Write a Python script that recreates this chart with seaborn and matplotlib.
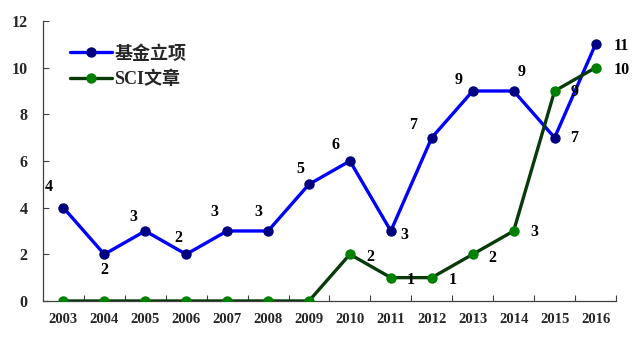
import matplotlib
matplotlib.use("Agg")
import matplotlib.pyplot as plt
import seaborn as sns
import pandas as pd
from matplotlib.ticker import FixedLocator
from matplotlib.lines import Line2D

years = [2003, 2004, 2005, 2006, 2007, 2008, 2009, 2010, 2011, 2012, 2013, 2014, 2015, 2016]
fund = [4, 2, 3, 2, 3, 3, 5, 6, 3, 7, 9, 9, 7, 11]
sci = [0, 0, 0, 0, 0, 0, 0, 2, 1, 1, 2, 3, 9, 10]
series_names = ["基金立项", "SCI文章"]

# label offsets in pixels (dx, dy up)
fund_off = [(-15, 21), (0, -16), (-12, 14), (-8, 16), (-13, 19), (-10, 19), (-9, 15),
            (-14, 16), (13, -4), (-19, 13), (-14, 11), (8, 19), (20, 0), (26, -2)]
sci_off = [(20, -3), (20, -2), (21, -2), (20, -4), (21, -1), (20, -1), (26, -2)]

sns.set_theme(style="white")
plt.rcParams['font.family'] = ['Liberation Serif', 'Noto Sans CJK SC', 'DejaVu Sans']

df = pd.DataFrame({"year": years * 2,
                   "value": fund + sci,
                   "series": [series_names[0]] * len(years) + [series_names[1]] * len(years)})

fig = plt.figure(figsize=(6.4, 3.42), dpi=100)
ax = fig.add_axes([0.067, 0.12, 0.8955, 0.8186])

sns.lineplot(data=df, x="year", y="value", hue="series",
             palette={series_names[0]: "#0000FF", series_names[1]: "#0A3A0A"},
             linewidth=2.4, marker="o", markersize=7.5, markeredgewidth=0,
             ax=ax, legend=False)
lines = ax.get_lines()
lines[0].set_markerfacecolor("#000080")
lines[1].set_markerfacecolor("#008000")
lines[0].set_zorder(2)
lines[1].set_zorder(3)

for x, v, (dx, dy) in zip(years, fund, fund_off):
    ax.annotate(str(v), (x, v), xytext=(dx, dy), textcoords="offset pixels",
                ha="center", va="center", fontsize=11.5, fontweight="bold", color="black")
for x, v, (dx, dy) in zip(years[7:], sci[7:], sci_off):
    ax.annotate(str(v), (x, v), xytext=(dx, dy), textcoords="offset pixels",
                ha="center", va="center", fontsize=11.5, fontweight="bold", color="black")

ax.set_xlim(2002.5, 2016.5)
ax.set_ylim(0, 12)
ax.set_yticks([0, 2, 4, 6, 8, 10, 12])
ax.set_xticks(years)
ax.set_xticklabels([str(y) for y in years], fontsize=10.5, fontweight="bold")
ax.set_yticklabels([str(t) for t in [0, 2, 4, 6, 8, 10, 12]], fontsize=11.5, fontweight="bold")
ax.xaxis.set_minor_locator(FixedLocator([y + 0.5 for y in years[:-1]] + [2016.5]))
ax.tick_params(axis="x", which="major", length=0, pad=9)
ax.tick_params(axis="x", which="minor", direction="in", length=4, width=0.8, color="#404040", bottom=True)
ax.tick_params(axis="y", which="major", direction="in", length=4, width=0.8, color="#404040", left=True, pad=11)
ax.set_xlabel("")
ax.set_ylabel("")
for s in ["top", "right"]:
    ax.spines[s].set_visible(False)
for s in ["left", "bottom"]:
    ax.spines[s].set_color("#404040")
    ax.spines[s].set_linewidth(0.9)

handles = [Line2D([], [], color="#0000FF", lw=2.4, marker="o", markersize=7.5, markerfacecolor="#000080", markeredgewidth=0),
           Line2D([], [], color="#0A3A0A", lw=2.4, marker="o", markersize=7.5, markerfacecolor="#008000", markeredgewidth=0)]
ax.legend(handles, series_names, loc="upper left", bbox_to_anchor=(0.035, 0.94), frameon=False,
          prop={"family": ["Liberation Serif", "Noto Sans CJK SC"], "weight": "bold", "size": 13},
          handlelength=2.3, handletextpad=0.15, labelspacing=0.45, borderaxespad=0)

fig.savefig("out.png", dpi=100)
